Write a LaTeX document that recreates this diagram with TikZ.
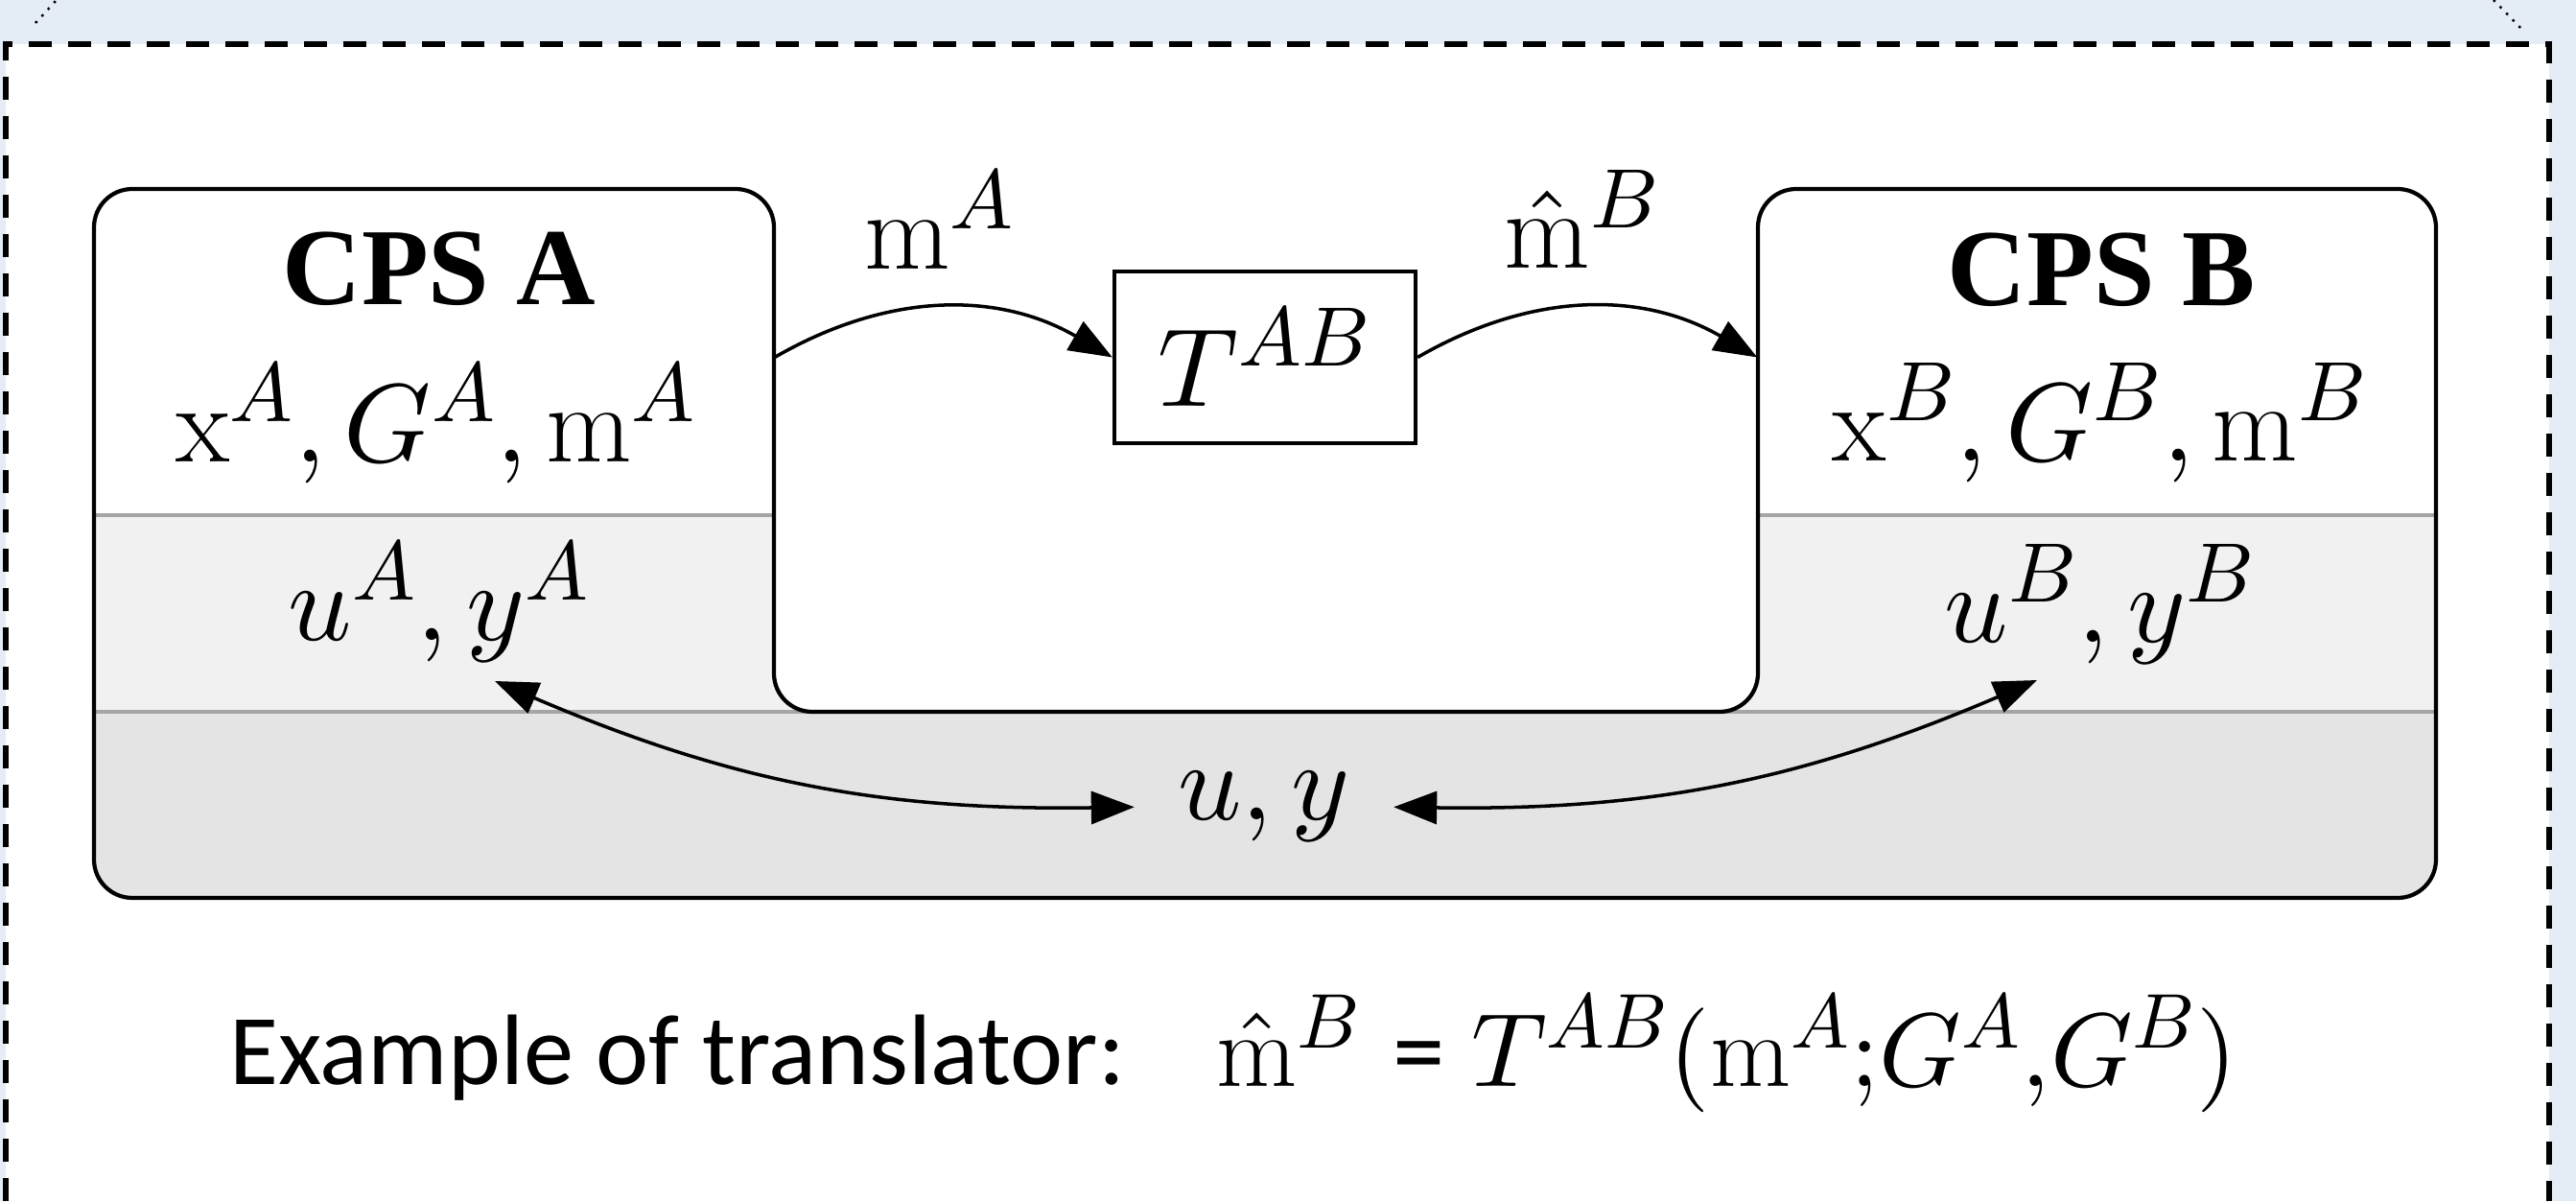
\documentclass[tikz,border=0pt]{standalone}
\usepackage{fontspec}
\DeclareFontFamily{OML}{cmm}{\skewchar\font127}
\DeclareFontShape{OML}{cmm}{m}{it}{<->cmmi10}{}
\DeclareFontFamily{OT1}{cmr}{\hyphenchar\font45}
\DeclareFontShape{OT1}{cmr}{m}{n}{<->cmr10}{}
\DeclareFontFamily{OMS}{cmsy}{\skewchar\font48}
\DeclareFontShape{OMS}{cmsy}{m}{n}{<->cmsy10}{}
\DeclareFontShape{OMX}{cmex}{m}{n}{<->cmex10}{}
\DeclareMathSizes{33}{33}{25}{18}
\DeclareMathSizes{31}{31}{23}{16}
\newfontfamily\tmsfont{Liberation Serif}
\newfontfamily\calfont{Carlito}
\usetikzlibrary{arrows.meta,calc}
\definecolor{bgblue}{RGB}{228,236,245}
\definecolor{bandlight}{RGB}{241,241,241}
\definecolor{banddark}{RGB}{228,228,228}
\definecolor{sepgray}{RGB}{165,165,165}
\tikzset{
  bigtxt/.style={font=\fontsize{33}{40}\selectfont, inner sep=0pt},
  titletxt/.style={font=\fontsize{32.5}{40}\selectfont\tmsfont\bfseries, inner sep=0pt},
  captxt/.style={font=\fontsize{29.7}{36}\selectfont\calfont, inner sep=0pt},
  eqtxt/.style={font=\fontsize{31}{36}\selectfont, inner sep=0pt},
  outline/.style={line width=1.2pt, rounded corners=0.4cm},
  flow/.style={line width=1pt, -{Triangle[length=0.45cm,width=0.34cm]}},
  dflow/.style={line width=1pt, {Triangle[length=0.45cm,width=0.34cm]}-{Triangle[length=0.45cm,width=0.34cm]}},
  sepline/.style={sepgray, line width=1pt},
  boxarea/.style={minimum height=3.40cm, inner sep=0pt},
}
\begin{document}
\begin{tikzpicture}
\useasboundingbox (0,0) rectangle (26.86,12.52);
\fill[bgblue] (0,0) rectangle (26.86,12.52);
\fill[white] (0.06,0) rectangle (26.58,12.06);
\draw[line width=1.7pt, dash pattern=on 0.24cm off 0.17cm] (0.06,0) -- (0.06,12.06) -- (26.58,12.06) -- (26.58,0);
\draw[line width=0.7pt, dotted] (0.37,12.28) -- (0.59,12.52);
\draw[line width=0.7pt, dotted] (26.00,12.52) -- (26.28,12.23);

% frame with bands
\begin{scope}
\clip[rounded corners=0.4cm] (0.98,10.55) -- (8.07,10.55) -- (8.07,5.10) -- (18.33,5.10) -- (18.33,10.55) -- (25.40,10.55) -- (25.40,3.16) -- (0.98,3.16) -- cycle;
\fill[bandlight] (0.98,5.10) rectangle (25.40,7.15);
\fill[banddark] (0.98,3.16) rectangle (25.40,5.10);
\draw[sepline] (0.98,7.15) -- (25.40,7.15);
\draw[sepline] (0.98,5.10) -- (25.40,5.10);
\end{scope}
\draw[outline] (0.98,10.55) -- (8.07,10.55) -- (8.07,5.10) -- (18.33,5.10) -- (18.33,10.55) -- (25.40,10.55) -- (25.40,3.16) -- (0.98,3.16) -- cycle;

% anchor areas for the two systems
\node[boxarea, minimum width=7.09cm] (cpsA) at (4.525,8.85) {};
\node[boxarea, minimum width=7.07cm] (cpsB) at (21.865,8.85) {};

% translator
\node[draw, line width=1.2pt, minimum width=3.14cm, minimum height=1.79cm, bigtxt] (T) at (13.19,8.795) {$T^{AB}$};

% texts
\node[titletxt, anchor=base] (tA) at (4.58,9.34) {CPS A};
\node[bigtxt, anchor=base] (vA) at (4.55,7.70) {$\mathrm{x}^A, G^A, \mathrm{m}^A$};
\node[bigtxt, anchor=base] (uA) at (4.58,5.84) {$u^A, y^A$};
\node[titletxt, anchor=base] (tB) at (21.91,9.33) {CPS B};
\node[bigtxt, anchor=base] (vB) at (21.90,7.71) {$\mathrm{x}^B, G^B, \mathrm{m}^B$};
\node[bigtxt, anchor=base] (uB) at (21.90,5.82) {$u^B, y^B$};
\node[bigtxt, anchor=base] (mA) at (9.80,9.715) {$\mathrm{m}^A$};
\node[bigtxt, anchor=base] (mB) at (16.50,9.72) {$\hat{\mathrm{m}}^B$};
\node[bigtxt, anchor=base, inner xsep=0.45cm] (uy) at (13.18,3.97) {$u, y$};

\coordinate (tipA) at (5.16,5.42);
\coordinate (tipB) at (21.24,5.43);

\draw[flow] (cpsA.east |- T.west) to[bend left=30] (T.west);
\draw[flow] (T.east) to[bend left=30] (cpsB.west |- T.east);
\draw[dflow] (tipA) to[bend right=12] (uy.west);
\draw[dflow] (uy.east) to[bend right=12] (tipB);

% caption
\node[captxt, anchor=base west] (cap) at (2.39,1.22) {Example of translator:};
\node[eqtxt, anchor=base west] (eq) at (12.68,1.20) {$\hat{\mathrm{m}}^B$\hspace{0.3em}{\calfont =}\hspace{0.25em}$T^{AB}(\mathrm{m}^A{;}G^A{,}G^B)$};
\end{tikzpicture}
\end{document}
